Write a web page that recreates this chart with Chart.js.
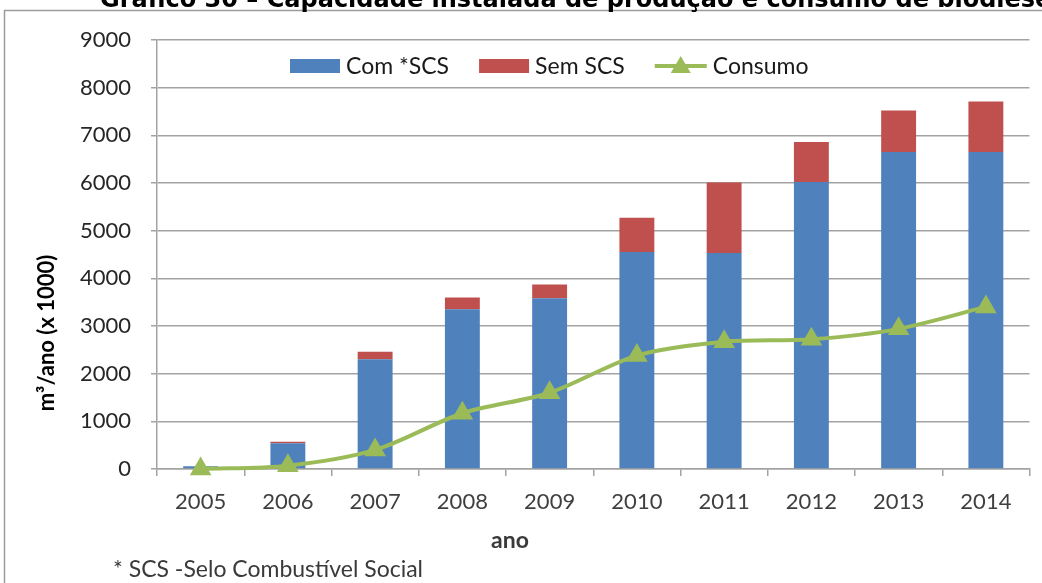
<!DOCTYPE html>
<html>
<head>
<meta charset="utf-8">
<title>Capacidade instalada e consumo de biodiesel</title>
<script src="https://cdn.jsdelivr.net/npm/chart.js@4.4.1/dist/chart.umd.min.js"></script>
<style>
  html, body { margin: 0; padding: 0; background: #fff; }
  canvas { display: block; }
</style>
</head>
<body>
<canvas id="grafico" width="1042" height="583"></canvas>
<script>
// anos e valores em m3/ano (x 1000)
const anos = ['2005', '2006', '2007', '2008', '2009', '2010', '2011', '2012', '2013', '2014'];
const comSCS = [60, 540, 2300, 3350, 3580, 4550, 4530, 6020, 6650, 6650];
const semSCS = [0, 30, 160, 250, 290, 720, 1480, 840, 870, 1060];
const consumo = [0, 70, 400, 1170, 1600, 2380, 2670, 2720, 2940, 3400];
const yMin = 0;
const yMax = 9000;
const yStep = 1000;

const fonte = 'Lato, "Open Sans", "Liberation Sans", sans-serif';
const azul = '#4f81bd';
const vermelho = '#c0504d';
const verde = '#9bbb59';
const cinzaGrade = '#a3a3a3';

// legenda desenhada dentro da area do grafico, como no Excel
const legendaInterna = {
  id: 'legendaInterna',
  afterDraw(chart) {
    const c = chart.ctx;
    let x = 290;
    const y = 66;
    c.save();
    c.font = '23px ' + fonte;
    c.textBaseline = 'middle';
    chart.data.datasets.forEach(ds => {
      if (ds.type === 'line') {
        c.strokeStyle = ds.borderColor;
        c.lineWidth = 4;
        c.beginPath();
        c.moveTo(x, y);
        c.lineTo(x + 52, y);
        c.stroke();
        c.fillStyle = ds.borderColor;
        c.beginPath();
        c.moveTo(x + 26, y - 10);
        c.lineTo(x + 36, y + 7);
        c.lineTo(x + 16, y + 7);
        c.closePath();
        c.fill();
        x += 58;
      } else {
        c.fillStyle = ds.backgroundColor;
        c.fillRect(x, y - 7, 50, 14);
        x += 56;
      }
      c.fillStyle = '#1a1a1a';
      c.fillText(ds.label, x, y + 1);
      x += c.measureText(ds.label).width + 30;
    });
    c.restore();
  }
};

// titulo, moldura, titulos dos eixos e nota de rodape
const textosExtras = {
  id: 'textosExtras',
  afterDraw(chart) {
    const c = chart.ctx;
    c.save();
    // moldura
    c.strokeStyle = '#9c9c9c';
    c.lineWidth = 1.5;
    c.beginPath();
    c.moveTo(4.5, 583);
    c.lineTo(4.5, 10.5);
    c.lineTo(1042, 10.5);
    c.stroke();

    // titulo (cortado no topo)
    c.fillStyle = '#000';
    c.font = 'bold 24px "DejaVu Sans", sans-serif';
    c.textBaseline = 'alphabetic';
    c.textAlign = 'left';
    c.fillText('Gráfico 30 – Capacidade instalada de produção e consumo de biodiesel', 100, 7);

    // titulo do eixo y
    c.save();
    c.translate(47, 333);
    c.rotate(-Math.PI / 2);
    c.textAlign = 'center';
    c.textBaseline = 'middle';
    c.font = 'bold 22px ' + fonte;
    c.fillText('m³/ano (x 1000)', 0, 0);
    c.restore();

    // titulo do eixo x
    c.fillStyle = '#3a3a3a';
    c.font = 'bold 23px ' + fonte;
    c.textAlign = 'center';
    c.textBaseline = 'middle';
    c.fillText('ano', 510, 541);

    // nota
    c.font = '23px ' + fonte;
    c.textAlign = 'left';
    c.fillText('* SCS -Selo Combustível Social', 113, 570);
    c.restore();
  }
};

const ctx = document.getElementById('grafico').getContext('2d');
const grafico = new Chart(ctx, {
  type: 'bar',
  data: {
    labels: anos,
    datasets: [
      {
        label: 'Com *SCS',
        data: comSCS,
        backgroundColor: azul,
        stack: 'capacidade',
        order: 1,
        barPercentage: 0.8,
        categoryPercentage: 0.5
      },
      {
        label: 'Sem SCS',
        data: semSCS,
        backgroundColor: vermelho,
        stack: 'capacidade',
        order: 1,
        barPercentage: 0.8,
        categoryPercentage: 0.5
      },
      {
        type: 'line',
        label: 'Consumo',
        data: consumo,
        borderColor: verde,
        backgroundColor: verde,
        borderWidth: 4,
        tension: 0.3,
        pointStyle: 'triangle',
        pointRadius: 12.5,
        pointBorderWidth: 0,
        stack: 'consumo',
        order: 0,
        clip: false
      }
    ]
  },
  options: {
    responsive: false,
    animation: false,
    events: [],
    layout: { padding: { top: 40, right: 12, left: 0, bottom: 0 } },
    plugins: {
      legend: { display: false },
      tooltip: { enabled: false }
    },
    scales: {
      x: {
        stacked: true,
        afterFit: (scale) => { scale.height = 114; },
        grid: {
          display: true,
          drawOnChartArea: false,
          drawTicks: true,
          tickLength: 7,
          color: cinzaGrade,
          lineWidth: 1.5
        },
        border: { color: cinzaGrade, width: 1.5 },
        ticks: {
          padding: 13,
          color: '#3f3f3f',
          font: { family: fonte, size: 22 }
        }
      },
      y: {
        stacked: true,
        min: yMin,
        max: yMax,
        afterFit: (scale) => { scale.width = 157; },
        grid: {
          color: cinzaGrade,
          lineWidth: 1.5,
          drawTicks: true,
          tickLength: 6
        },
        border: { color: cinzaGrade, width: 1.5 },
        ticks: {
          stepSize: yStep,
          padding: 20,
          color: '#262626',
          font: { family: fonte, size: 22 },
          callback: (v) => String(v)
        }
      }
    }
  },
  plugins: [legendaInterna, textosExtras]
});
</script>
</body>
</html>
